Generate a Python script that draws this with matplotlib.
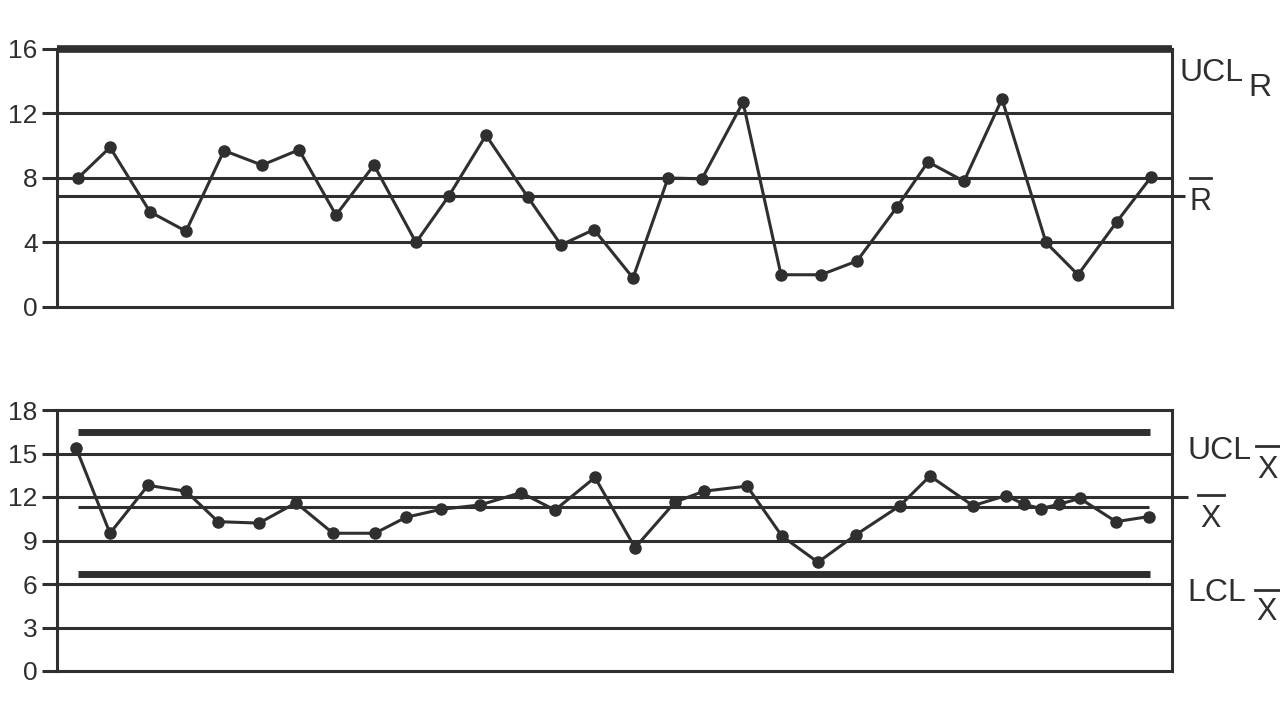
import matplotlib
matplotlib.use("Agg")
import matplotlib.pyplot as plt
from matplotlib.lines import Line2D

plt.rcParams['font.family'] = ['Liberation Sans', 'DejaVu Sans']

# ---------------- Range (R) chart data ----------------
r_pos = [21, 53, 93, 129, 167, 205, 242, 279, 317, 359, 392, 429, 471, 504, 537,
         576, 611, 645, 686, 724, 764, 800, 840, 871, 907, 945, 989, 1021, 1060, 1094]
r_values = [8.0, 9.9, 5.9, 4.7, 9.7, 8.8, 9.75, 5.7, 8.8, 4.0, 6.9, 10.65, 6.8, 3.85, 4.8,
            1.8, 8.0, 7.95, 12.7, 2.0, 2.0, 2.85, 6.2, 9.0, 7.8, 12.9, 4.0, 2.0, 5.3, 8.05]
r_ticks = [0, 4, 8, 12, 16]
r_grid = [4, 8, 12]
ucl_r = 16
r_bar = 6.9

# ---------------- X-bar chart data ----------------
x_pos = [19, 53, 91, 129, 161, 202, 239, 276, 318, 349, 384, 423, 464, 498, 538, 578,
         618, 647, 690, 725, 761, 799, 843, 873, 916, 949, 967, 984, 1002, 1023, 1059, 1092]
xbar_values = [15.4, 9.5, 12.8, 12.4, 10.3, 10.2, 11.6, 9.5, 9.5, 10.6, 11.15, 11.45, 12.3, 11.1,
               13.35, 8.5, 11.65, 12.4, 12.75, 9.3, 7.5, 9.4, 11.4, 13.45, 11.4, 12.1, 11.5,
               11.2, 11.5, 11.9, 10.3, 10.65]
x_ticks = [0, 3, 6, 9, 12, 15, 18]
x_grid = [3, 6, 9, 15]
x_ref = 12
ucl_x = 16.5
lcl_x = 6.7
x_center = 11.3

INK = '#2f2f2f'
W, H = 1280, 702

fig = plt.figure(figsize=(12.8, 7.02), dpi=100)
fig.patch.set_facecolor('white')


def rect(l, t, r, b):
    return [l / W, 1 - b / H, (r - l) / W, (b - t) / H]


def style(ax, ticks, ymax):
    ax.set_xlim(0, 1115)
    ax.set_ylim(0, ymax)
    ax.set_xticks([])
    ax.set_yticks(ticks)
    ax.set_yticklabels([str(t) for t in ticks])
    ax.tick_params(axis='y', direction='out', length=11, width=2.2,
                   labelsize=19, pad=3, colors=INK)
    for s in ax.spines.values():
        s.set_linewidth(2.2)
        s.set_color(INK)
    ax.set_facecolor('none')


ax1 = fig.add_axes(rect(57, 49, 1172, 307))
style(ax1, r_ticks, 16)
for g in r_grid:
    ax1.plot([0, 1115], [g, g], color=INK, lw=2.2, solid_capstyle='butt')
ax1.plot([0, 1115], [ucl_r, ucl_r], color=INK, lw=5.5, clip_on=False, solid_capstyle='butt')
ax1.plot([0, 1128], [r_bar, r_bar], color=INK, lw=2.2, clip_on=False, solid_capstyle='butt')
ax1.plot(r_pos, r_values, color=INK, lw=2.2, marker='o', ms=8, zorder=5)

ax2 = fig.add_axes(rect(57, 410, 1172, 671))
style(ax2, x_ticks, 18)
for g in x_grid:
    ax2.plot([0, 1115], [g, g], color=INK, lw=2.2, solid_capstyle='butt')
ax2.plot([0, 1131], [x_ref, x_ref], color=INK, lw=2.2, clip_on=False, solid_capstyle='butt')
ax2.plot([21, 1093], [ucl_x, ucl_x], color=INK, lw=5, solid_capstyle='butt')
ax2.plot([21, 1093], [lcl_x, lcl_x], color=INK, lw=5, solid_capstyle='butt')
ax2.plot([21, 1092], [x_center, x_center], color=INK, lw=2.2, solid_capstyle='butt')
ax2.plot(x_pos, xbar_values, color=INK, lw=2.2, marker='o', ms=8, zorder=5)


def ftext(x, y_base, s, size):
    fig.text(x / W, 1 - y_base / H, s, fontsize=size, color=INK,
             ha='left', va='baseline')


def fbar(x0, x1, y):
    fig.add_artist(Line2D([x0 / W, x1 / W], [1 - y / H, 1 - y / H],
                          transform=fig.transFigure, color=INK, lw=2))


# labels for R chart
ftext(1180, 81, 'UCL', 23)
ftext(1248, 96, 'R', 23)
ftext(1190, 210, 'R', 22)
fbar(1190, 1211, 178)

# labels for X-bar chart
ftext(1187, 459, 'UCL', 23)
ftext(1257, 478, 'X', 22)
fbar(1256, 1281, 446)
ftext(1200, 527, 'X', 22)
fbar(1198, 1224, 495)
ftext(1187, 601, 'LCL', 23)
ftext(1256, 620, 'X', 22)
fbar(1255, 1280, 590)

fig.savefig('out.png', dpi=100, facecolor='white')
